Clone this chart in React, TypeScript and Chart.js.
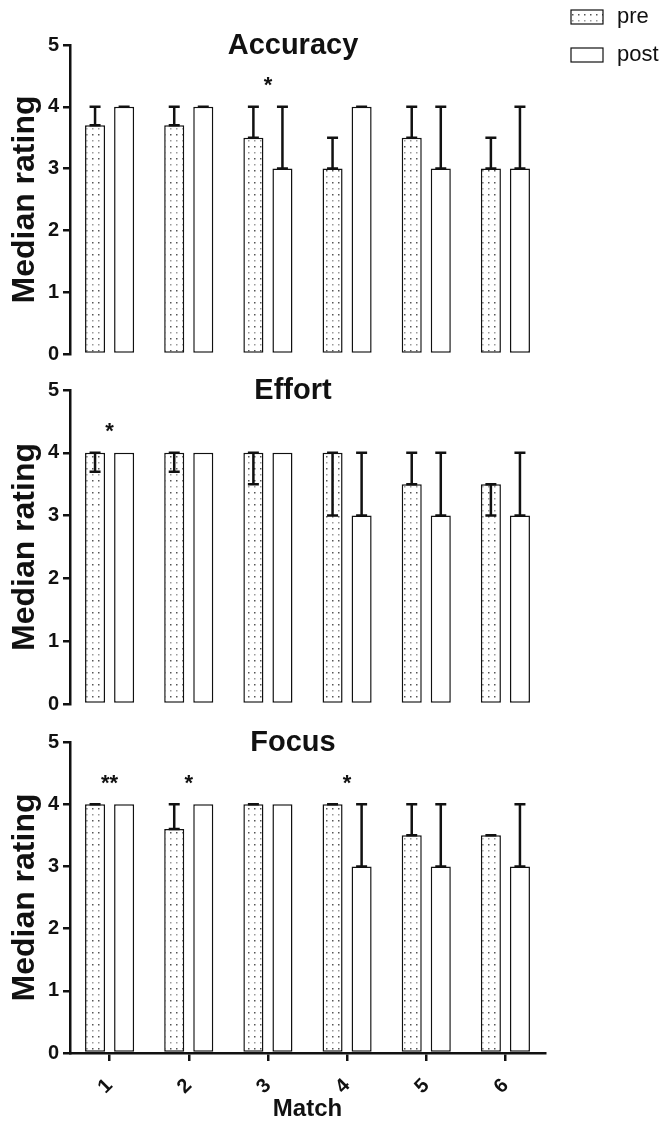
import { useEffect, useRef } from 'react';
import { Chart, registerables } from 'chart.js';

Chart.register(...registerables);

// Categories, series and axis ticks
const matches = ['1', '2', '3', '4', '5', '6'];
const seriesNames = ['pre', 'post'];
const yTicks = [0, 1, 2, 3, 4, 5];

// Accuracy panel: medians, ranges [low, high] and significance marks
const accuracyPre = [3.7, 3.7, 3.5, 3.0, 3.5, 3.0];
const accuracyPost = [4, 4, 3, 4, 3, 3];
const accuracyPreRange = [[3.7, 4], [3.7, 4], [3.5, 4], [3, 3.5], [3.5, 4], [3, 3.5]];
const accuracyPostRange = [[4, 4], [4, 4], [3, 4], [4, 4], [3, 4], [3, 4]];
const accuracySig = ['', '', '*', '', '', ''];

// Effort panel
const effortPre = [4, 4, 4, 4, 3.5, 3.5];
const effortPost = [4, 4, 4, 3, 3, 3];
const effortPreRange = [[3.7, 4], [3.7, 4], [3.5, 4], [3, 4], [3.5, 4], [3, 3.5]];
const effortPostRange = [null, null, null, [3, 4], [3, 4], [3, 4]];
const effortSig = ['*', '', '', '', '', ''];

// Focus panel
const focusPre = [4, 3.6, 4, 4, 3.5, 3.5];
const focusPost = [4, 4, 4, 3, 3, 3];
const focusPreRange = [[4, 4], [3.6, 4], [4, 4], [4, 4], [3.5, 4], [3.5, 3.5]];
const focusPostRange = [null, null, null, [3, 4], [3, 4], [3, 4]];
const focusSig = ['**', '*', '', '*', '', ''];

const FONT = '"Liberation Sans", Arial, Helvetica, sans-serif';
const INK = '#111';

function makeDots(ctx: CanvasRenderingContext2D) {
  const tile = document.createElement('canvas');
  tile.width = 6;
  tile.height = 12;
  const t = tile.getContext('2d')!;
  t.fillStyle = '#fff';
  t.fillRect(0, 0, 6, 12);
  t.fillStyle = '#555';
  t.fillRect(2, 2, 1.5, 1.5);
  t.fillStyle = '#9a9a9a';
  t.fillRect(2, 8, 1.5, 1.5);
  return ctx.createPattern(tile, 'repeat')!;
}

type PanelProps = {
  top: number;
  height: number;
  padTop: number;
  padBottom: number;
  title: string;
  pre: number[];
  post: number[];
  preRange: (number[] | null)[];
  postRange: (number[] | null)[];
  sig: string[];
  showX: boolean;
  showLegend: boolean;
};

function Panel(p: PanelProps) {
  const ref = useRef<HTMLCanvasElement>(null);

  useEffect(() => {
    const canvas = ref.current!;
    const ctx = canvas.getContext('2d')!;
    const dots = makeDots(ctx);
    const ranges = [p.preRange, p.postRange];

    const decor = {
      id: 'panelDecor',
      afterDatasetsDraw(chart: any) {
        const c = chart.ctx;
        const y = chart.scales.y;
        const x = chart.scales.x;
        c.save();
        // range whiskers
        c.strokeStyle = INK;
        c.lineWidth = 2.5;
        c.lineCap = 'butt';
        ranges.forEach((rs, d) => {
          const meta = chart.getDatasetMeta(d);
          rs.forEach((r, i) => {
            if (!r) return;
            const cx = meta.data[i].x;
            const y0 = y.getPixelForValue(r[0]);
            const y1 = y.getPixelForValue(r[1]);
            c.beginPath();
            if (y0 !== y1) {
              c.moveTo(cx, y0);
              c.lineTo(cx, y1);
            }
            c.moveTo(cx - 5.5, y0);
            c.lineTo(cx + 5.5, y0);
            c.moveTo(cx - 5.5, y1);
            c.lineTo(cx + 5.5, y1);
            c.stroke();
          });
        });
        // significance marks
        c.fillStyle = INK;
        c.font = `bold 22px ${FONT}`;
        c.textAlign = 'center';
        c.textBaseline = 'middle';
        p.sig.forEach((s, i) => {
          if (!s) return;
          c.fillText(s, x.getPixelForValue(i), y.getPixelForValue(4.33));
        });
        // panel title
        c.font = `bold 29px ${FONT}`;
        c.fillText(p.title, 293, chart.chartArea.top + 1);
        // legend
        if (p.showLegend) {
          chart.data.datasets.forEach((ds: any, i: number) => {
            const by = 10 + i * 38;
            c.fillStyle = ds.backgroundColor;
            c.fillRect(571, by, 32, 14);
            c.lineWidth = 1.2;
            c.strokeStyle = INK;
            c.strokeRect(571, by, 32, 14);
            c.fillStyle = INK;
            c.font = `22px ${FONT}`;
            c.textAlign = 'left';
            c.textBaseline = 'middle';
            c.fillText(ds.label, 617, by + 7);
          });
        }
        c.restore();
      },
    };

    const barStyle = {
      borderColor: INK,
      borderWidth: 1.5,
      borderSkipped: false,
      barPercentage: 0.69,
      categoryPercentage: 0.734,
    };

    const chart = new Chart(canvas, {
      type: 'bar',
      data: {
        labels: matches,
        datasets: [
          { label: seriesNames[0], data: p.pre, backgroundColor: dots, ...barStyle },
          { label: seriesNames[1], data: p.post, backgroundColor: '#ffffff', ...barStyle },
        ],
      },
      options: {
        animation: false,
        responsive: false,
        devicePixelRatio: 1,
        layout: { padding: { top: p.padTop, bottom: p.padBottom, left: 0, right: 125 } },
        plugins: { legend: { display: false }, tooltip: { enabled: false } },
        scales: {
          x: {
            display: p.showX,
            afterFit: (s: any) => {
              if (p.showX) s.height = 76;
            },
            border: { display: true, color: INK, width: 2.5 },
            grid: { offset: false, drawOnChartArea: false, drawTicks: true, tickLength: 8, tickWidth: 2.5, lineWidth: 2.5, color: INK },
            ticks: { color: INK, font: { family: FONT, size: 20, weight: 'bold' }, minRotation: 45, maxRotation: 45, padding: 13 },
            title: { display: true, text: 'Match', color: INK, font: { family: FONT, size: 24, weight: 'bold' }, padding: { top: 0, bottom: 5 } },
          },
          y: {
            min: 0,
            max: 5,
            afterFit: (s: any) => {
              s.width = 70;
            },
            afterBuildTicks: (s: any) => {
              s.ticks = yTicks.map((v) => ({ value: v }));
            },
            border: { display: true, color: INK, width: 2.5 },
            grid: { drawOnChartArea: false, drawTicks: true, tickLength: 7, tickWidth: 2.5, lineWidth: 2.5, color: INK },
            ticks: { color: INK, font: { family: FONT, size: 20, weight: 'bold' }, padding: 4 },
            title: { display: true, text: 'Median rating', color: INK, font: { family: FONT, size: 32, weight: 'bold' }, padding: { top: 6, bottom: 0 } },
          },
        },
      },
      plugins: [decor],
    } as any);

    return () => chart.destroy();
  }, []);

  return (
    <canvas
      ref={ref}
      width={670}
      height={p.height}
      style={{ position: 'absolute', left: 0, top: p.top, width: 670, height: p.height, display: 'block' }}
    />
  );
}

export default function App() {
  return (
    <div style={{ position: 'absolute', left: 0, top: 0, width: 670, height: 1129, background: '#fff', overflow: 'hidden' }}>
      <Panel
        top={0}
        height={370}
        padTop={45}
        padBottom={14}
        title="Accuracy"
        pre={accuracyPre}
        post={accuracyPost}
        preRange={accuracyPreRange}
        postRange={accuracyPostRange}
        sig={accuracySig}
        showX={false}
        showLegend={true}
      />
      <Panel
        top={370}
        height={352}
        padTop={20}
        padBottom={18}
        title="Effort"
        pre={effortPre}
        post={effortPost}
        preRange={effortPreRange}
        postRange={effortPostRange}
        sig={effortSig}
        showX={false}
        showLegend={false}
      />
      <Panel
        top={722}
        height={407}
        padTop={20}
        padBottom={0}
        title="Focus"
        pre={focusPre}
        post={focusPost}
        preRange={focusPreRange}
        postRange={focusPostRange}
        sig={focusSig}
        showX={true}
        showLegend={false}
      />
    </div>
  );
}
